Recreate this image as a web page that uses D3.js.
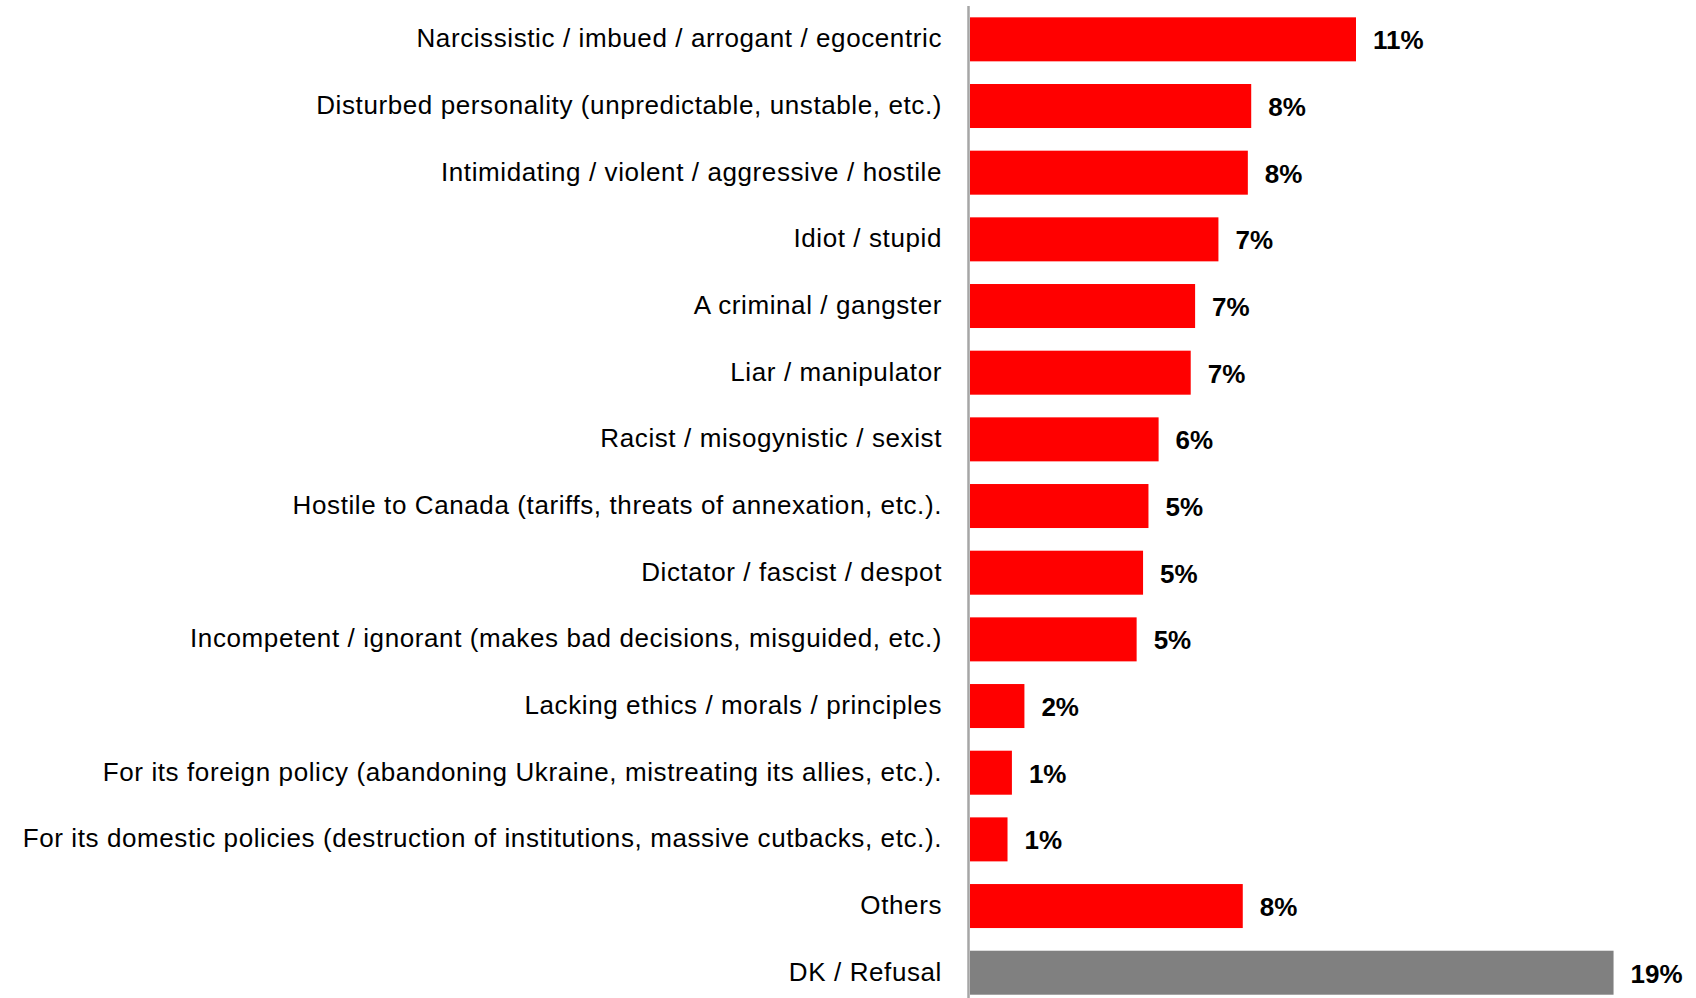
<!DOCTYPE html>
<html><head><meta charset="utf-8">
<script src="https://cdn.jsdelivr.net/npm/d3@7/dist/d3.min.js"></script>
<style>html,body{margin:0;padding:0;background:#fff;overflow:hidden}</style>
</head><body>
<svg id="chart" width="1696" height="998"></svg>
<script>
const categories = [
  "Narcissistic / imbued / arrogant / egocentric",
  "Disturbed personality (unpredictable, unstable, etc.)",
  "Intimidating / violent / aggressive / hostile",
  "Idiot / stupid",
  "A criminal / gangster",
  "Liar / manipulator",
  "Racist / misogynistic / sexist",
  "Hostile to Canada (tariffs, threats of annexation, etc.).",
  "Dictator / fascist / despot",
  "Incompetent / ignorant (makes bad decisions, misguided, etc.)",
  "Lacking ethics / morals / principles",
  "For its foreign policy (abandoning Ukraine, mistreating its allies, etc.).",
  "For its domestic policies (destruction of institutions, massive cutbacks, etc.).",
  "Others",
  "DK / Refusal"
];
const values = [11.42, 8.32, 8.22, 7.35, 6.66, 6.53, 5.58, 5.28, 5.12, 4.93, 1.61, 1.24, 1.11, 8.07, 19.04];
const valueLabels = ["11%","8%","8%","7%","7%","7%","6%","5%","5%","5%","2%","1%","1%","8%","19%"];
const barColors = ["#ff0000","#ff0000","#ff0000","#ff0000","#ff0000","#ff0000","#ff0000","#ff0000","#ff0000","#ff0000","#ff0000","#ff0000","#ff0000","#ff0000","#808080"];

const svg = d3.select("#chart");
const x0 = 970;
const x = d3.scaleLinear().domain([0, 20]).range([x0, x0 + 676]);
const y = d3.scaleBand().domain(categories).range([6, 6 + 66.67 * categories.length]).paddingInner(0.34).paddingOuter(0.17);

const data = categories.map((c, i) => ({c, v: values[i], l: valueLabels[i], col: barColors[i]}));

svg.append("g").selectAll("rect").data(data).join("rect")
  .attr("x", x(0))
  .attr("y", d => y(d.c))
  .attr("width", d => x(d.v) - x(0))
  .attr("height", y.bandwidth())
  .attr("fill", d => d.col);

svg.append("line")
  .attr("x1", 968.5).attr("x2", 968.5)
  .attr("y1", 6).attr("y2", 998)
  .attr("stroke", "#a6a6a6").attr("stroke-width", 2.5);

svg.append("g").selectAll("text").data(data).join("text")
  .attr("x", 942)
  .attr("y", d => y(d.c) + y.bandwidth() / 2 - 1)
  .attr("text-anchor", "end")
  .attr("dominant-baseline", "central")
  .attr("font-family", "'Liberation Sans', Arial, sans-serif")
  .attr("font-size", 26)
  .attr("letter-spacing", "0.6px")
  .attr("fill", "#000")
  .text(d => d.c);

svg.append("g").selectAll("text").data(data).join("text")
  .attr("x", d => x(d.v) + 17)
  .attr("y", d => y(d.c) + y.bandwidth() / 2 + 1)
  .attr("dominant-baseline", "central")
  .attr("font-family", "'Liberation Sans', Arial, sans-serif")
  .attr("font-weight", "bold")
  .attr("font-size", 26)
  .attr("fill", "#000")
  .text(d => d.l);
</script>
</body></html>
